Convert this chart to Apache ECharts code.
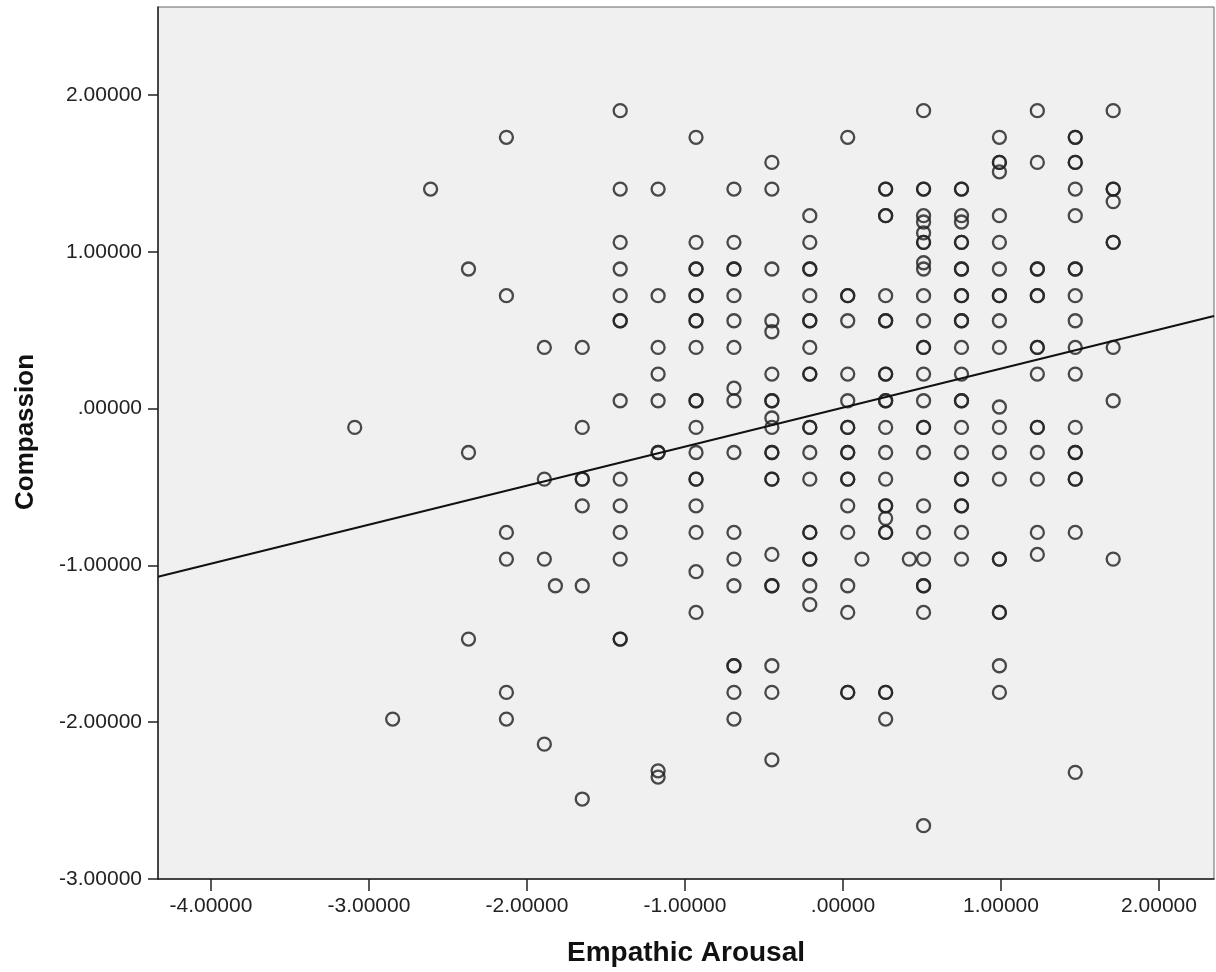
<!DOCTYPE html>
<html>
<head>
<meta charset="utf-8">
<style>
  html, body { margin: 0; padding: 0; background: #ffffff; }
  #chart { width: 1216px; height: 972px; }
</style>
<script src="https://cdn.jsdelivr.net/npm/echarts@6/dist/echarts.min.js"></script>
</head>
<body>
<div id="chart"></div>
<script>
// Tick values and labels
const xTickValues = [-4, -3, -2, -1, 0, 1, 2];
const xTickLabels = ['-4.00000', '-3.00000', '-2.00000', '-1.00000', '.00000', '1.00000', '2.00000'];
const yTickValues = [-3, -2, -1, 0, 1, 2];
const yTickLabels = ['-3.00000', '-2.00000', '-1.00000', '.00000', '1.00000', '2.00000'];

// Axis titles
const xTitle = 'Empathic Arousal';
const yTitle = 'Compassion';

// Axis extents
const xExtent = [-4.335, 2.348];
const yExtent = [-3, 2.561];

// Empathic Arousal values (x) of each column of points
const xColumns = [-3.09, -2.85, -2.61, -2.37, -2.13, -1.89, -1.82, -1.65, -1.41, -1.17,
                  -0.93, -0.69, -0.45, -0.21, 0.03, 0.12, 0.27, 0.42, 0.51, 0.75,
                  0.99, 1.23, 1.47, 1.71];

// Compassion values (y) for each column (repeated values are overlapping cases)
const yColumns = [
  [-0.12],
  [-1.98],
  [1.40],
  [0.89, -0.28, -1.47],
  [1.73, 0.72, -0.79, -0.96, -1.81, -1.98],
  [0.39, -0.45, -0.96, -2.14],
  [-1.13],
  [0.39, -0.12, -0.45, -0.45, -0.62, -1.13, -2.49],
  [1.90, 1.40, 1.06, 0.89, 0.72, 0.56, 0.56, 0.05, -0.45, -0.62, -0.79, -0.96, -1.47, -1.47],
  [1.40, 0.72, 0.39, 0.22, 0.05, -0.28, -0.28, -2.31, -2.35],
  [1.73, 1.06, 0.89, 0.89, 0.72, 0.72, 0.56, 0.56, 0.39, 0.05, 0.05, -0.12, -0.28, -0.45, -0.45, -0.62, -0.79, -1.04, -1.30],
  [1.40, 1.06, 0.89, 0.89, 0.72, 0.56, 0.39, 0.13, 0.05, -0.28, -0.79, -0.96, -1.13, -1.64, -1.64, -1.81, -1.98],
  [1.57, 1.40, 0.89, 0.56, 0.49, 0.22, 0.05, 0.05, -0.06, -0.12, -0.28, -0.28, -0.45, -0.45, -0.93, -1.13, -1.13, -1.64, -1.81, -2.24],
  [1.23, 1.06, 0.89, 0.89, 0.72, 0.56, 0.56, 0.39, 0.22, 0.22, -0.12, -0.12, -0.28, -0.45, -0.79, -0.79, -0.96, -0.96, -1.13, -1.25],
  [1.73, 0.72, 0.72, 0.56, 0.22, 0.05, -0.12, -0.12, -0.28, -0.28, -0.45, -0.45, -0.62, -0.79, -1.13, -1.30, -1.81, -1.81],
  [-0.96],
  [1.40, 1.40, 1.23, 1.23, 0.72, 0.56, 0.56, 0.22, 0.22, 0.05, 0.05, -0.12, -0.28, -0.45, -0.62, -0.62, -0.70, -0.79, -0.79, -1.81, -1.81, -1.98],
  [-0.96],
  [1.90, 1.40, 1.40, 1.23, 1.19, 1.12, 1.06, 1.06, 0.93, 0.89, 0.72, 0.56, 0.39, 0.39, 0.22, 0.05, -0.12, -0.12, -0.28, -0.62, -0.79, -0.96, -1.13, -1.13, -1.30, -2.66],
  [1.40, 1.40, 1.23, 1.19, 1.06, 1.06, 0.89, 0.89, 0.72, 0.72, 0.56, 0.56, 0.39, 0.22, 0.05, 0.05, -0.12, -0.28, -0.45, -0.45, -0.62, -0.62, -0.79, -0.96],
  [1.73, 1.57, 1.57, 1.51, 1.23, 1.06, 0.89, 0.72, 0.72, 0.56, 0.39, 0.01, -0.12, -0.28, -0.45, -0.96, -0.96, -1.30, -1.30, -1.64, -1.81],
  [1.90, 1.57, 0.89, 0.89, 0.72, 0.72, 0.39, 0.39, 0.22, -0.12, -0.12, -0.28, -0.45, -0.79, -0.93],
  [1.73, 1.73, 1.57, 1.57, 1.40, 1.23, 0.89, 0.89, 0.72, 0.56, 0.39, 0.22, -0.12, -0.28, -0.28, -0.45, -0.45, -0.79, -2.32],
  [1.90, 1.40, 1.40, 1.32, 1.06, 1.06, 0.39, 0.05, -0.96]
];

// Fit line end points (at the axis extents)
const fitX = [-4.335, 2.348];
const fitY = [-1.073, 0.590];

const points = [];
xColumns.forEach((x, i) => yColumns[i].forEach(y => points.push([x, y])));
const fitLine = fitX.map((x, i) => [x, fitY[i]]);

const chart = echarts.init(document.getElementById('chart'), null, { renderer: 'canvas' });
const font = "'Liberation Sans', Arial, sans-serif";

chart.setOption({
  animation: false,
  backgroundColor: '#ffffff',
  grid: {
    left: 158, right: 2, top: 7, bottom: 92,
    show: true,
    backgroundColor: '#f0f0f0',
    borderColor: '#666666',
    borderWidth: 1
  },
  graphic: [
    {
      type: 'text',
      x: 26,
      y: 432,
      rotation: Math.PI / 2,
      z: 10,
      silent: true,
      style: {
        text: yTitle,
        x: 0, y: 0,
        textAlign: 'center',
        textVerticalAlign: 'middle',
        fontFamily: font, fontSize: 26, fontWeight: 'bold', fill: '#111'
      }
    }
  ],
  xAxis: {
    type: 'value',
    min: xExtent[0], max: xExtent[1],
    name: xTitle,
    nameLocation: 'middle',
    nameGap: 60,
    nameTextStyle: { fontFamily: font, fontSize: 28, fontWeight: 'bold', color: '#111' },
    axisLine: { show: true, onZero: false, lineStyle: { color: '#222', width: 1.5 } },
    axisTick: { show: true, length: 12, lineStyle: { color: '#222', width: 1.5 }, customValues: xTickValues },
    axisLabel: {
      customValues: xTickValues,
      margin: 17,
      fontFamily: font, fontSize: 21, color: '#222',
      formatter: v => xTickLabels[xTickValues.indexOf(Math.round(v))]
    },
    splitLine: { show: false }
  },
  yAxis: {
    type: 'value',
    min: yExtent[0], max: yExtent[1],
    axisLine: { show: true, onZero: false, lineStyle: { color: '#222', width: 1.5 } },
    axisTick: { show: true, length: 10, lineStyle: { color: '#222', width: 1.5 }, customValues: yTickValues },
    axisLabel: {
      customValues: yTickValues,
      margin: 16,
      fontFamily: font, fontSize: 21, color: '#222',
      formatter: v => yTickLabels[yTickValues.indexOf(Math.round(v))]
    },
    splitLine: { show: false }
  },
  series: [
    {
      type: 'scatter',
      data: points,
      symbol: 'circle',
      symbolSize: 13,
      itemStyle: { color: 'rgba(0,0,0,0)', borderColor: '#222222', borderWidth: 2.3, opacity: 0.82 },
      silent: true
    },
    {
      type: 'line',
      data: fitLine,
      showSymbol: false,
      symbol: 'none',
      lineStyle: { color: '#111', width: 2 },
      silent: true
    }
  ]
});
</script>
</body>
</html>
